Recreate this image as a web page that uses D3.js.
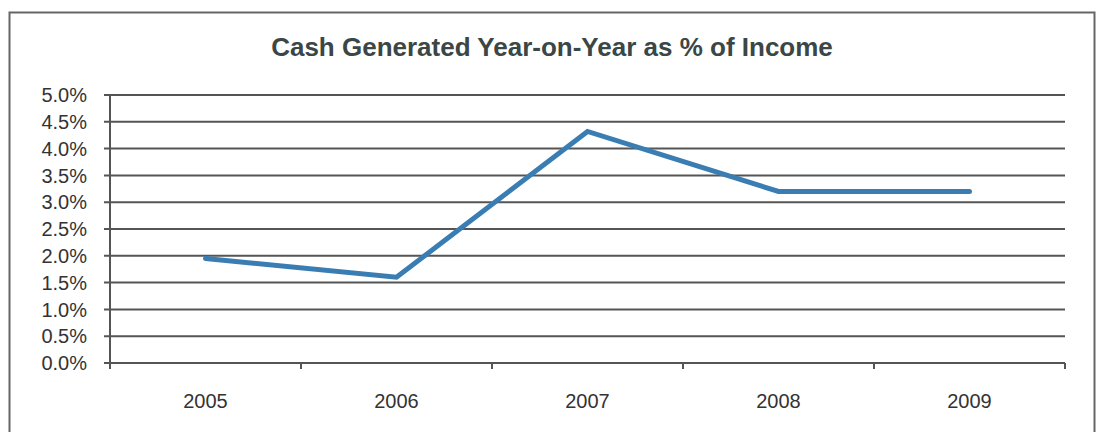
<!DOCTYPE html>
<html>
<head>
<meta charset="utf-8">
<script src="https://cdn.jsdelivr.net/npm/d3@7"></script>
<style>
	body { margin: 0; background: #fff; }
	text { font-family: "Liberation Sans", Arial, sans-serif; fill: #333; }
	.title { font-weight: bold; font-size: 26px; fill: #3b4646; }
</style>
</head>
<body>
<div id="chart"></div>
<script>

// chart data
var years = ["2005", "2006", "2007", "2008", "2009"];
var cashPct = [1.95, 1.6, 4.32, 3.2, 3.2];
var yTicks = [0, 0.5, 1, 1.5, 2, 2.5, 3, 3.5, 4, 4.5, 5];

var width = 1101;
var height = 432;
var margin = {left: 110, top: 95, right: 36, bottom: 69};

var svg = d3.select("#chart")
	.append("svg")
	.attr("width", width)
	.attr("height", height);

// outer frame (bottom edge is cut off in the scan)
svg.append("rect")
	.attr("x", 9.5)
	.attr("y", 12.5)
	.attr("width", 1085)
	.attr("height", 440)
	.style("fill", "none")
	.style("stroke", "#666")
	.style("stroke-width", 2);

svg.append("text")
	.attr("class", "title")
	.attr("x", 552)
	.attr("y", 56)
	.style("text-anchor", "middle")
	.text("Cash Generated Year-on-Year as % of Income");

// scales
var xScale = d3.scaleBand()
	.domain(years)
	.range([margin.left, width - margin.right]);
var yScale = d3.scaleLinear()
	.domain([0, 5])
	.range([height - margin.bottom, margin.top]);

// gridlines
svg.append("g")
	.selectAll("line")
	.data(yTicks)
	.enter()
	.append("line")
	.attr("x1", margin.left - 6)
	.attr("x2", width - margin.right)
	.attr("y1", function(d) { return yScale(d); })
	.attr("y2", function(d) { return yScale(d); })
	.style("stroke", "#555")
	.style("stroke-width", 2);

// y axis line
svg.append("line")
	.attr("x1", margin.left)
	.attr("x2", margin.left)
	.attr("y1", yScale(5))
	.attr("y2", yScale(0) + 5)
	.style("stroke", "#555")
	.style("stroke-width", 2);

// x tick marks on category boundaries
var bounds = years.map(function(d) { return xScale(d); }).concat([width - margin.right]);
svg.append("g")
	.selectAll("line")
	.data(bounds)
	.enter()
	.append("line")
	.attr("x1", function(d) { return d; })
	.attr("x2", function(d) { return d; })
	.attr("y1", yScale(0))
	.attr("y2", yScale(0) + 6)
	.style("stroke", "#555")
	.style("stroke-width", 2);

// y labels
svg.append("g")
	.selectAll("text")
	.data(yTicks)
	.enter()
	.append("text")
	.attr("x", 87)
	.attr("y", function(d) { return yScale(d); })
	.attr("dy", "0.36em")
	.style("text-anchor", "end")
	.style("font-size", "20px")
	.text(function(d) { return d.toFixed(1) + "%"; });

// x labels
svg.append("g")
	.selectAll("text")
	.data(years)
	.enter()
	.append("text")
	.attr("x", function(d) { return xScale(d) + xScale.bandwidth() / 2; })
	.attr("y", 408)
	.style("text-anchor", "middle")
	.style("font-size", "20px")
	.text(function(d) { return d; });

// the line
var line = d3.line()
	.x(function(d, i) { return xScale(years[i]) + xScale.bandwidth() / 2; })
	.y(function(d) { return yScale(d); });

svg.append("path")
	.datum(cashPct)
	.attr("d", line)
	.style("fill", "none")
	.style("stroke", "#3a7db3")
	.style("stroke-width", 5)
	.style("stroke-linecap", "round")
	.style("stroke-linejoin", "miter");

</script>
</body>
</html>
